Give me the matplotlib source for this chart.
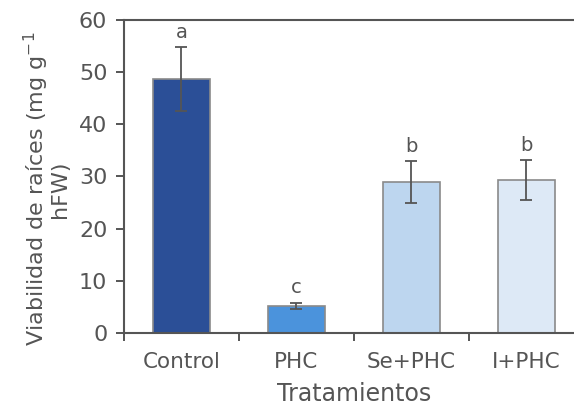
import matplotlib.pyplot as plt
import numpy as np

categories = ["Control", "PHC", "Se+PHC", "I+PHC"]
values = [48.7, 5.2, 29.0, 29.3]
errors = [6.1, 0.6, 4.0, 3.9]
letters = ["a", "c", "b", "b"]
colors = ["#2b4f97", "#4b93dc", "#bdd6ef", "#dde9f6"]

txt = "#555555"
plt.rcParams['font.family'] = ['DejaVu Sans']

fig = plt.figure(figsize=(5.74, 4.09), dpi=100)
ax = fig.add_axes([0.216, 0.186, 0.801, 0.765])

x = np.arange(len(categories))
ax.bar(x, values, width=0.5, color=colors, edgecolor="#8a8a8a", linewidth=1.2, zorder=2)
ax.errorbar(x, values, yerr=errors, fmt="none", ecolor="#555555", elinewidth=1.3,
            capsize=4, capthick=1.3, zorder=3)
for xi, v, e, l in zip(x, values, errors, letters):
    ax.text(xi, v + e + 1.0, l, ha="center", va="bottom", fontsize=14, color=txt)

ax.set_xlim(-0.5, 3.5)
ax.set_ylim(0, 60)
ax.set_yticks(range(0, 61, 10))
ax.set_xticks(x)
ax.set_xticklabels(categories)
# ticks sit between the categories
ax.set_xticks(np.arange(-0.5, 4, 1), minor=True)
ax.tick_params(axis="x", which="major", length=0, pad=14, labelsize=15.5, colors=txt)
ax.tick_params(axis="x", which="minor", length=6, width=1.4, color="#555555", direction="out")
ax.tick_params(axis="y", length=6, width=1.4, color="#555555", labelsize=16,
               labelcolor=txt, pad=6)

for s in ["left", "bottom", "top"]:
    ax.spines[s].set_color("#555555")
    ax.spines[s].set_linewidth(1.5)
ax.spines["right"].set_visible(False)

ax.set_ylabel("Viabilidad de raíces (mg g$^{-1}$\nhFW)", fontsize=16, color=txt,
              linespacing=0.95)
ax.yaxis.set_label_coords(-0.118, 0.46)
ax.set_xlabel("Tratamientos", fontsize=17, color=txt, labelpad=7)

fig.savefig("out.png", dpi=100)
